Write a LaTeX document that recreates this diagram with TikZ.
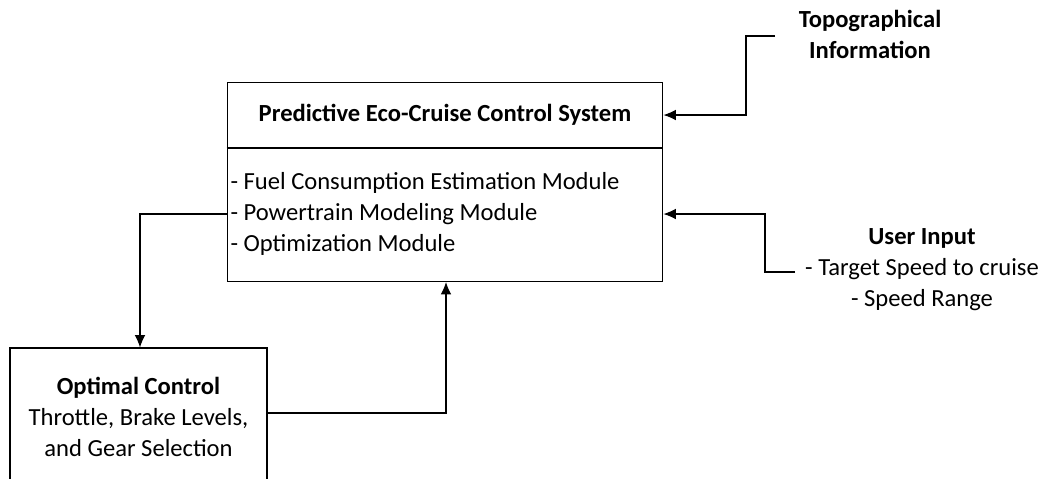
\documentclass[tikz,border=0pt]{standalone}
\usepackage{fontspec}
\setmainfont{Carlito}
\usetikzlibrary{arrows.meta}
\begin{document}
\begin{tikzpicture}[x=0.02cm,y=-0.02cm,font=\fontsize{14}{17.6}\selectfont,line width=0.6pt]
\useasboundingbox (0,0) rectangle (1046,478);
\clip (0,0) rectangle (1046,478);
\node[draw, minimum width=8.72cm, minimum height=3.98cm, inner sep=0pt] (sys) at (445,182) {};
\node[font=\fontsize{14}{17.6}\selectfont\bfseries] (title) at (445,115) {Predictive Eco-Cruise Control System};
\coordinate (div) at (445,148);
\node[anchor=west, align=left, inner sep=0pt] (mods) at (230,214) {- Fuel Consumption Estimation Module\\- Powertrain Modeling Module\\- Optimization Module};
\node[draw, minimum width=5.14cm, minimum height=3cm, inner sep=0pt] (ctrl) at (138.5,423) {};
\node[align=center, inner sep=0pt] (ctrltxt) at (138.5,417) {\textbf{Optimal Control}\\Throttle, Brake Levels,\\and Gear Selection};
\node[align=center, inner sep=0pt, font=\fontsize{14}{17.6}\selectfont\bfseries] (topo) at (870,34) {Topographical\\Information};
\node[align=center, inner sep=0pt] (user) at (922,270) {\textbf{User Input}\\- Target Speed to cruise\\- Speed Range};
\coordinate (tp) at (775,36);
\coordinate (ui) at (795,272);
\coordinate (fb) at (140,214);
\coordinate (ret) at (446,413);

\path[draw] (sys.west |- div) -- (sys.east |- div);
\path[draw,->,>={Latex[length=7pt,width=6pt]}] (tp) -- ++(-29,0) |- (sys.east |- title);
\path[draw,->,>={Latex[length=7pt,width=6pt]}] (ui) -- ++(-30,0) |- (sys.east |- fb);
\path[draw,->,>={Latex[length=7pt,width=6pt]}] (sys.west |- fb) -- (fb) -- (fb |- ctrl.north);
\path[draw,->,>={Latex[length=7pt,width=6pt]}] (ctrl.east |- ret) -- (ret) -- (ret |- sys.south);
\end{tikzpicture}
\end{document}
